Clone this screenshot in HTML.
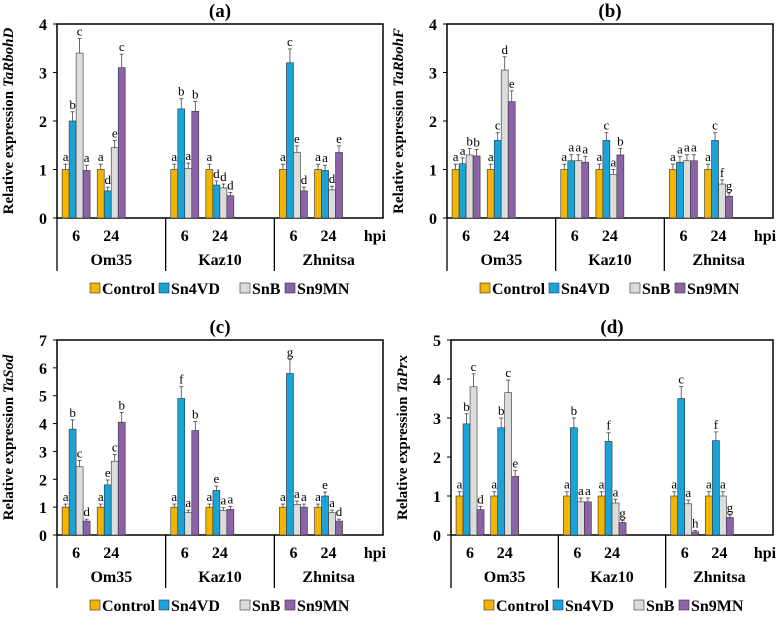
<!DOCTYPE html>
<html><head><meta charset="utf-8">
<style>
body{margin:0;background:#fff;}
svg text{font-family:"Liberation Serif",serif;}
</style></head>
<body>
<svg id="chart" width="780" height="622" viewBox="0 0 780 622"></svg>
<script>
const series = ["Control","Sn4VD","SnB","Sn9MN"];
const cultivars = ["Om35","Kaz10","Zhnitsa"];
const timepoints = ["6","24"];
// values per panel: [cultivar][time][series]
const valuesA = [[[1,2,3.4,0.98],[1,0.56,1.45,3.1]],[[1,2.25,1.02,2.2],[1,0.68,0.62,0.46]],[[1,3.2,1.35,0.56],[1,0.98,0.58,1.35]]];
const lettersA = [[["a","b","c","a"],["a","d","e","c"]],[["a","b","a","b"],["a","d","d","d"]],[["a","c","e","d"],["a","a","d","e"]]];
const valuesB = [[[1,1.12,1.3,1.28],[1,1.6,3.05,2.4]],[[1,1.18,1.18,1.15],[1,1.6,0.9,1.3]],[[1,1.15,1.18,1.18],[1,1.6,0.7,0.45]]];
const lettersB = [[["a","a","b","b"],["a","c","d","e"]],[["a","a","a","a"],["a","c","a","b"]],[["a","a","a","a"],["a","c","f","g"]]];
const valuesC = [[[1,3.8,2.45,0.5],[1,1.8,2.65,4.05]],[[1,4.9,0.8,3.75],[1,1.6,0.88,0.92]],[[1,5.8,1.1,1.0],[1,1.4,0.8,0.5]]];
const lettersC = [[["a","b","c","d"],["a","e","c","b"]],[["a","f","a","b"],["a","e","a","a"]],[["a","g","a","a"],["a","e","a","d"]]];
const valuesD = [[[1,2.85,3.8,0.65],[1,2.75,3.65,1.5]],[[1,2.75,0.85,0.85],[1,2.4,0.82,0.32]],[[1,3.5,0.8,0.08],[1,2.42,1.0,0.45]]];
const lettersD = [[["a","b","c","d"],["a","b","c","e"]],[["a","b","a","a"],["a","f","a","g"]],[["a","c","a","h"],["a","f","a","g"]]];
const ticksA = [0,1,2,3,4], ticksB=[0,1,2,3,4], ticksC=[0,1,2,3,4,5,6,7], ticksD=[0,1,2,3,4,5];

const colors = ["#f4b400","#1aa3d8","#dcdcdc","#8c63a8"];
const NS="http://www.w3.org/2000/svg";
const svg=document.getElementById('chart');
function mk(tag,attrs,parent,txt){const e=document.createElementNS(NS,tag);for(const k in attrs)e.setAttribute(k,attrs[k]);if(txt!==undefined)e.textContent=txt;(parent||svg).appendChild(e);return e;}

const panels=[
 {id:"a",gene:"TaRbohD",x0:57,x1:383,yt:24,yb:218,vals:valuesA,lets:lettersA,ticks:ticksA,leg:294},
 {id:"b",gene:"TaRbohF",x0:447,x1:773,yt:24,yb:218,vals:valuesB,lets:lettersB,ticks:ticksB,leg:294},
 {id:"c",gene:"TaSod",x0:57,x1:383,yt:340,yb:535,vals:valuesC,lets:lettersC,ticks:ticksC,leg:611},
 {id:"d",gene:"TaPrx",x0:451,x1:773,yt:340,yb:535,vals:valuesD,lets:lettersD,ticks:ticksD,leg:611}
];
panels.forEach(p=>{
 const g=mk('g',{},svg);
 
 
 const ymax=p.ticks[p.ticks.length-1];
 const y=v=>p.yb-(v/ymax)*(p.yb-p.yt);
 const gw=(p.x1-p.x0)/3, bw=7;
 const cx=(p.x0+p.x1)/2;
 const t=mk('text',{x:cx,y:p.yt-7,'text-anchor':'middle','font-size':19,'font-weight':'bold'},g,'('+p.id+')');
 
 
 const yl=mk('text',{transform:`translate(${p.x0-44},${(p.yt+p.yb)/2}) rotate(-90)`,'text-anchor':'middle','font-size':15,'font-weight':'bold'},g);
 
 
 mk('tspan',{},yl,'Relative expression ');
 mk('tspan',{'font-style':'italic'},yl,p.gene);
 p.ticks.forEach(tv=>{
  const tl=mk('text',{x:p.x0-10,y:y(tv)+6,'text-anchor':'end','font-size':16,'font-weight':'bold'},g,tv);
  
  
  mk('line',{x1:p.x0-4,x2:p.x0,y1:y(tv),y2:y(tv),stroke:'#000','stroke-width':1},g);
 });
 mk('rect',{x:p.x0,y:p.yt,width:p.x1-p.x0,height:p.yb-p.yt,fill:'none',stroke:'#000','stroke-width':1.5},g);
 const bot=p.yb+53;
 for(let c=0;c<3;c++){
  const gx=p.x0+c*gw;
  mk('line',{x1:gx,x2:gx,y1:p.yb,y2:bot,stroke:'#000','stroke-width':1.3},g);
  const cl=mk('text',{x:gx+gw/2,y:p.yb+47,'text-anchor':'middle','font-size':16,'font-weight':'bold'},g,cultivars[c]);
  
  
  for(let ti=0;ti<2;ti++){
   const sx=gx+gw*(ti===0?0.047:0.37);
   const tl=mk('text',{x:sx+2*bw,y:p.yb+23,'text-anchor':'middle','font-size':16,'font-weight':'bold'},g,timepoints[ti]);
   
   
   for(let s=0;s<4;s++){
    const v=p.vals[c][ti][s];
    const bx=sx+s*bw;
    const r=mk('rect',{x:bx,y:y(v),width:bw,height:p.yb-y(v),fill:colors[s],stroke:'#333','stroke-width':0.6},g);
    
    
    const e=0.03+0.08*v;
    const ex=bx+bw/2;
    mk('line',{x1:ex,x2:ex,y1:y(v),y2:y(v+e),stroke:'#444','stroke-width':0.8},g);
    mk('line',{x1:ex-2,x2:ex+2,y1:y(v+e),y2:y(v+e),stroke:'#444','stroke-width':0.8},g);
    const lt=mk('text',{x:ex,y:y(v+e)-3,'text-anchor':'middle','font-size':13},g,p.lets[c][ti][s]);
    
    
   }
  }
 }
 const hp=mk('text',{x:p.x1-8,y:p.yb+23,'text-anchor':'middle','font-size':16,'font-weight':'bold'},g,'hpi');
 
 
 const lxs=[p.x0+33,p.x0+102,p.x0+183,p.x0+228];
 series.forEach((s,i)=>{
  const lg=mk('g',{},g);
  
  
  mk('rect',{x:lxs[i],y:p.leg-11,width:10,height:10,fill:colors[i],stroke:'#333','stroke-width':0.6},lg);
  mk('text',{x:lxs[i]+12,y:p.leg,'font-size':16,'font-weight':'bold'},lg,s);
 });
});
</script>
</body></html>
